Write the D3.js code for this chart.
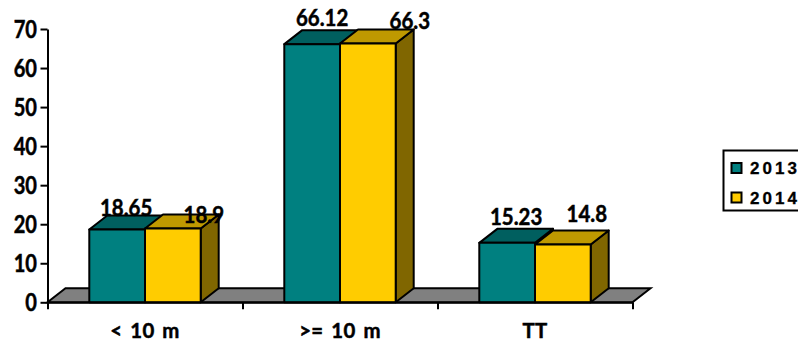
<!DOCTYPE html>
<html>
<head>
<meta charset="utf-8">
<script src="https://cdn.jsdelivr.net/npm/d3@7"></script>
<style>
  html, body { margin: 0; padding: 0; background: #fff; overflow: hidden; }
  text { fill: #000; font-family: Lato, "Open Sans", sans-serif; font-weight: 700; }
  text.heavy { stroke: #000; stroke-width: 0.5px; }
</style>
</head>
<body>
<svg id="chart" width="798" height="342"></svg>
<script>
// Chart data
const categories = ["< 10 m", ">= 10 m", "TT"];
const seriesNames = ["2013", "2014"];
const values2013 = [18.65, 66.12, 15.23];
const values2014 = [18.9, 66.3, 14.8];
const yTicks = [0, 10, 20, 30, 40, 50, 60, 70];

const series = [
  { name: seriesNames[0], values: values2013, front: "#008080", top: "#005f5f", side: "#004040" },
  { name: seriesNames[1], values: values2014, front: "#ffcc00", top: "#bf9900", side: "#806600" }
];

// Manual label nudges relative to the front-face centre and top, per series and category
const labelNudge = [
  [[9, -13], [10, -18], [9, -18]],
  [[31, -6], [42, -14], [24, -23]]
];

const svg = d3.select("#chart");
const depth = { x: 18, y: -14 };
const ink = "#000";
const inkWidth = 2;

const y = d3.scaleLinear().domain([0, 70]).range([302.3, 29]);
const x = d3.scaleBand().domain(categories).range([47.5, 632.5]).paddingInner(0).paddingOuter(0);
const inner = d3.scaleBand().domain(seriesNames).range([41.8, x.bandwidth() - 41.8]);

const poly = pts => pts.map(p => p.join(",")).join(" ");

// Places a horizontally condensed text at an anchor point
const placeText = (sel, px, py, sx) => sel.attr("transform", `translate(${px},${py}) scale(${sx},1)`);

// Floor of the 3D plot
svg.append("polygon")
  .attr("points", poly([
    [x.range()[0], y(0)],
    [x.range()[0] + depth.x, y(0) + depth.y],
    [x.range()[1] + depth.x, y(0) + depth.y],
    [x.range()[1], y(0)]
  ]))
  .attr("fill", "#808080")
  .attr("stroke", ink)
  .attr("stroke-width", inkWidth);

// Bars: side and top first, then the front face
const bars = svg.append("g");
categories.forEach((cat, i) => {
  series.forEach(s => {
    const x0 = x(cat) + inner(s.name);
    const x1 = x0 + inner.bandwidth();
    const yt = y(s.values[i]);
    const yb = y(0);
    const g = bars.append("g").attr("stroke", ink).attr("stroke-width", inkWidth).attr("stroke-linejoin", "round");
    g.append("polygon")
      .attr("points", poly([[x1, yb], [x1 + depth.x, yb + depth.y], [x1 + depth.x, yt + depth.y], [x1, yt]]))
      .attr("fill", s.side);
    g.append("polygon")
      .attr("points", poly([[x0, yt], [x0 + depth.x, yt + depth.y], [x1 + depth.x, yt + depth.y], [x1, yt]]))
      .attr("fill", s.top);
    g.append("rect")
      .attr("x", x0).attr("y", yt)
      .attr("width", x1 - x0).attr("height", yb - yt)
      .attr("fill", s.front);
  });
});

// Axes
const yAxis = svg.append("g")
  .attr("transform", `translate(${x.range()[0]},0)`)
  .call(d3.axisLeft(y).tickValues(yTicks).tickSize(7).tickSizeOuter(0).tickFormat(""));
yAxis.selectAll("path, line").attr("stroke", ink).attr("stroke-width", 2);

const tickPos = d3.scaleLinear().domain([0, categories.length]).range(x.range());
const xAxis = svg.append("g")
  .attr("transform", `translate(0,${y(0)})`)
  .call(d3.axisBottom(tickPos).tickValues(d3.range(categories.length + 1)).tickSize(7).tickSizeOuter(0).tickFormat(""));
xAxis.selectAll("path, line").attr("stroke", ink).attr("stroke-width", 2);

// Value-axis labels
svg.append("g").selectAll("text").data(yTicks).join("text")
  .attr("class", "heavy")
  .attr("text-anchor", "end")
  .attr("font-size", 24.5)
  .text(d => d)
  .each(function (d) { placeText(d3.select(this), 37, y(d) + 9, 0.82); });

// Category labels
svg.append("g").selectAll("text").data(categories).join("text")
  .attr("class", "heavy")
  .attr("text-anchor", "middle")
  .attr("font-size", 21)
  .attr("word-spacing", 2.5)
  .attr("letter-spacing", 0.4)
  .text(d => d)
  .each(function (d) { placeText(d3.select(this), x(d) + x.bandwidth() / 2, 337.5, 0.97); });

// Value labels
series.forEach((s, k) => {
  categories.forEach((cat, i) => {
    const label = svg.append("text")
      .attr("class", "heavy")
      .attr("text-anchor", "middle")
      .attr("font-size", 22)
      .text(s.values[i]);
    placeText(label,
      x(cat) + inner(s.name) + inner.bandwidth() / 2 + labelNudge[k][i][0],
      y(s.values[i]) + labelNudge[k][i][1],
      0.93);
  });
});

// Legend frame runs past the right edge of the canvas
const legend = svg.append("g");
legend.append("rect")
  .attr("x", 723.5).attr("y", 150.5).attr("width", 90).attr("height", 60)
  .attr("fill", "#fff").attr("stroke", ink).attr("stroke-width", 2);
series.forEach((s, k) => {
  const cy = 168 + k * 29.5;
  legend.append("rect")
    .attr("x", 731.5).attr("y", cy - 5).attr("width", 10).attr("height", 10)
    .attr("fill", s.front).attr("stroke", ink).attr("stroke-width", 2);
  legend.append("text")
    .attr("x", 750).attr("y", cy + 6)
    .attr("font-size", 17)
    .attr("dx", "0 3 3 3")
    .attr("stroke", "#000")
    .attr("stroke-width", 0.3)
    .attr("style", "font-family:'Liberation Sans';font-weight:700")
    .text(s.name);
});
</script>
</body>
</html>
